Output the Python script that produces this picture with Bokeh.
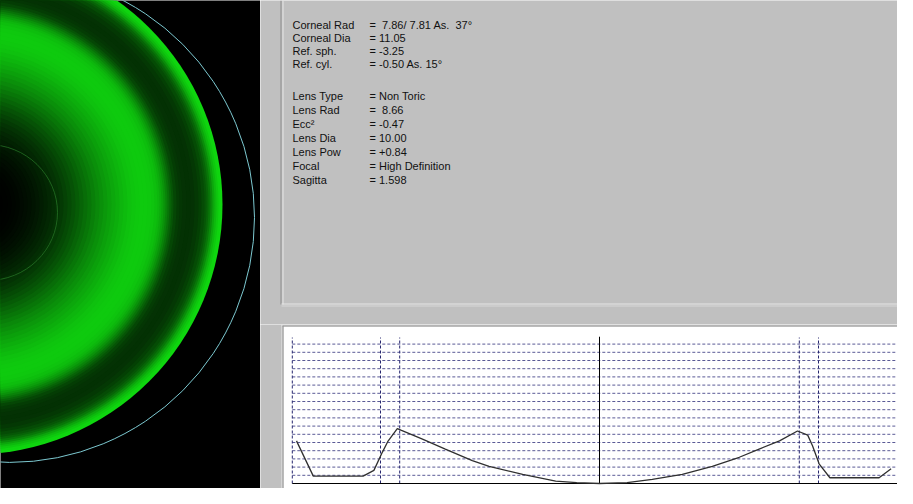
from bokeh.plotting import figure
from bokeh.layouts import row, column
from bokeh.models import Range1d
from bokeh.embed import file_html
from bokeh.resources import INLINE
from bokeh.core.properties import value

# ---------------- data ----------------
info_labels = ["Corneal Rad", "Corneal Dia", "Ref. sph.", "Ref. cyl.",
               "Lens Type", "Lens Rad", "Ecc²", "Lens Dia", "Lens Pow", "Focal", "Sagitta"]
info_values = ["=\u00a0 7.86/ 7.81 As.\u00a0 37°", "= 11.05", "= -3.25", "= -0.50 As. 15°",
               "= Non Toric", "=\u00a0 8.66", "= -0.47", "= 10.00", "= +0.84",
               "= High Definition", "= 1.598"]
info_rows = [32, 45, 58, 71, 103.5, 117.5, 131.5, 145.5, 159.5, 173.5, 187.5]

# tear-film clearance profile (x: mm from centre, y: microns)
profile_x = [-5.05, -4.77, -3.94, -3.76, -3.62, -3.53, -3.37, -3.31, -2.95, -2.57, -2.12,
             -1.84, -1.28, -0.73, -0.38, 0.0, 0.46, 0.88, 1.38, 1.88, 2.33, 2.66, 3.0,
             3.3, 3.47, 3.55, 3.66, 3.84, 4.66, 4.86]
profile_y = [52, 9, 9, 16, 38, 51, 67, 65, 54, 42, 28,
             21, 11, 3, 1, 0, 1, 5, 11, 21, 32, 42, 52,
             64, 59, 46, 24, 7, 7, 18]
grid_y = [10, 20, 30, 40, 50, 60, 70, 80, 90, 100, 110, 120, 130, 140, 150, 160, 170]
zone_x = [-5.12, -3.65, -3.33, 3.33, 3.65]
axis_left, axis_right, zone_top, centre_top = -5.12, 5.0, 178, 179

# fluorescein pattern: ring radius (px) and green intensity
ring_r = [250, 248, 246, 244, 242, 240, 238, 236, 234, 232, 229, 226, 222, 218, 214,
          210, 207, 204, 201, 199, 197, 195, 193, 191, 189, 187, 185, 182, 179, 175,
          171, 167, 163, 159, 155, 151, 147, 143, 139, 135, 131, 127, 123, 119, 115,
          111, 107, 103, 99, 95, 91, 87, 83, 79, 75, 71, 67, 63, 59, 55,
          51, 47, 43, 39, 35, 30, 25]
ring_g = [215, 212, 200, 185, 165, 140, 118, 100, 86, 75, 64, 56, 50, 49, 50,
          54, 60, 70, 84, 98, 114, 130, 146, 160, 172, 182, 190, 196, 200, 202,
          202, 200, 197, 193, 187, 181, 174, 167, 160, 152, 144, 136, 127, 118, 109,
          100, 91, 82, 74, 66, 58, 51, 45, 39, 34, 29, 24, 20, 16, 13,
          10, 7, 5, 3, 2, 1, 0]

GRAY = "#c0c0c0"
FONT = "Liberation Sans"


def bare(fig):
    fig.grid.visible = False
    return fig


# ---------------- left: fluorescein image ----------------
left = bare(figure(width=260, height=488, x_range=Range1d(8, 268), y_range=Range1d(496, 8),
                   output_backend="svg", toolbar_location=None,
                   x_axis_location=None, y_axis_location=None,
                   background_fill_color="black", border_fill_color="black",
                   outline_line_color=None, min_border=0,
                   min_border_left=0, min_border_right=0, min_border_top=0, min_border_bottom=0))
cx, cy = -20, 212
for r, g in zip(ring_r, ring_g):
    col = "#%02x%02x%02x" % (round(g * 0.07), g, round(g * 0.07))
    left.circle(x=[cx], y=[cy], radius=r, fill_color=col, line_color=None)
left.ellipse(x=[-5], y=[220], width=140, height=136, fill_color=None,
             line_color="#2a7a2a", line_alpha=0.7, line_width=1)
left.circle(x=[17], y=[225], radius=245, fill_color=None, line_color="#7cc8d0", line_width=1)

# ---------------- right top: parameter panel ----------------
upper = bare(figure(width=637, height=324, x_range=Range1d(268, 905), y_range=Range1d(332, 8),
                    output_backend="svg", toolbar_location=None,
                    x_axis_location=None, y_axis_location=None,
                    background_fill_color=GRAY, border_fill_color=GRAY,
                    outline_line_color=None, min_border=0,
                    min_border_left=0, min_border_right=0, min_border_top=0, min_border_bottom=0))
upper.segment(x0=[288.5], y0=[8], x1=[288.5], y1=[312], line_color="#8c8c8c", line_width=1)
upper.segment(x0=[290.5], y0=[8], x1=[290.5], y1=[312], line_color="#e6e6e6", line_width=1)
upper.segment(x0=[289], y0=[311.5], x1=[905], y1=[311.5], line_color="#e6e6e6", line_width=1)
upper.segment(x0=[289], y0=[313.5], x1=[905], y1=[313.5], line_color="#d8d8d8", line_width=1)
upper.text(x=[300] * len(info_labels), y=info_rows, text=info_labels,
           text_font=value(FONT), text_font_size="11px", text_color="#111111",
           text_baseline="middle", text_align="left")
upper.text(x=[377] * len(info_values), y=info_rows, text=info_values,
           text_font=value(FONT), text_font_size="11px", text_color="#111111",
           text_baseline="middle", text_align="left")

# ---------------- right bottom: clearance profile chart ----------------
PX_PER_MM, CENTRE_PX = 60.0, 607.0
PX_PER_UM, BASE_PY = 0.82, 491.0


def X(px):
    return (px - CENTRE_PX) / PX_PER_MM


def Y(py):
    return (BASE_PY - py) / PX_PER_UM


chart = bare(figure(width=637, height=164, x_range=Range1d(X(268), X(905)),
                    y_range=Range1d(Y(496), Y(332)),
                    output_backend="svg", toolbar_location=None,
                    x_axis_location=None, y_axis_location=None,
                    background_fill_color=GRAY, border_fill_color=GRAY,
                    outline_line_color=None, min_border=0,
                    min_border_left=0, min_border_right=0, min_border_top=0, min_border_bottom=0))
# sunken white box
chart.quad(left=[X(291)], right=[X(910)], top=[Y(334)], bottom=[Y(498.5)],
           fill_color="white", line_color=None)
chart.segment(x0=[X(289.5)], y0=[Y(332)], x1=[X(289.5)], y1=[Y(499)], line_color="#e8e8e8", line_width=1)
chart.segment(x0=[X(290.5)], y0=[Y(333)], x1=[X(290.5)], y1=[Y(499)], line_color="#959595", line_width=1)
chart.segment(x0=[X(289)], y0=[Y(332.5)], x1=[X(910)], y1=[Y(332.5)], line_color="#e8e8e8", line_width=1)
chart.segment(x0=[X(290)], y0=[Y(333.5)], x1=[X(910)], y1=[Y(333.5)], line_color="#959595", line_width=1)

n = len(grid_y)
chart.segment(x0=[axis_left] * n, y0=grid_y, x1=[axis_right] * n, y1=grid_y,
              line_color="#5a5a96", line_width=1, line_dash="3 2")
m = len(zone_x)
chart.segment(x0=zone_x, y0=[0] * m, x1=zone_x, y1=[zone_top] * m,
              line_color="#26266e", line_width=1, line_dash="3 2")
chart.segment(x0=[0], y0=[0], x1=[0], y1=[centre_top], line_color="black", line_width=1)
chart.segment(x0=[axis_left], y0=[0], x1=[axis_right], y1=[0], line_color="black", line_width=1)
chart.line(profile_x, profile_y, line_color="#303030", line_width=1.3)

layout = row(left, column(upper, chart))
open("out.html", "w").write(file_html(layout, INLINE))
